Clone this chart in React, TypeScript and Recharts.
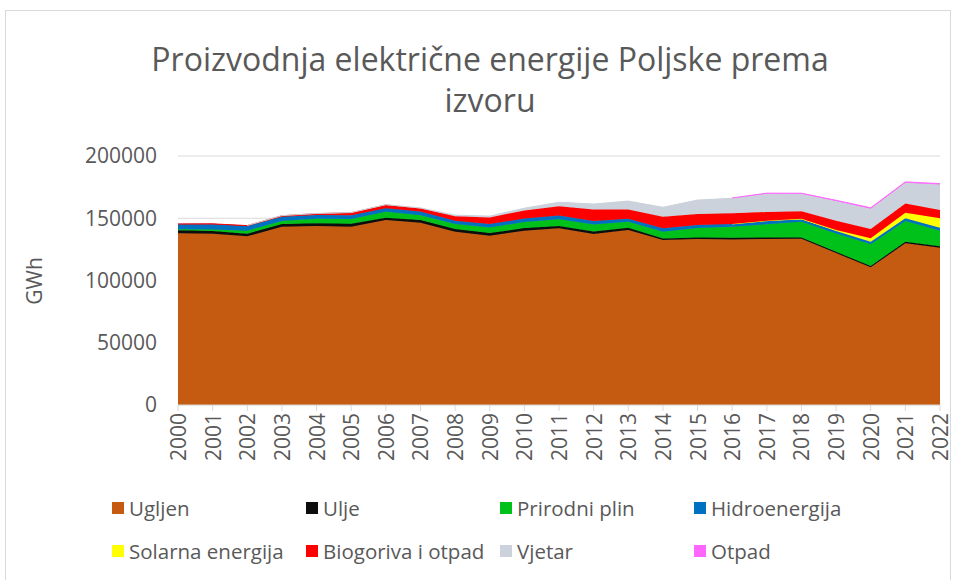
import { AreaChart, Area, XAxis, YAxis, CartesianGrid } from 'recharts';

const YEARS = [
  '2000', '2001', '2002', '2003', '2004', '2005', '2006', '2007', '2008', '2009', '2010', '2011',
  '2012', '2013', '2014', '2015', '2016', '2017', '2018', '2019', '2020', '2021', '2022',
];

// GWh (null = source not present that year)
const UGLJEN = [
  138000, 137500, 135500, 143200, 143800, 143200, 148600, 146400, 139200, 136000, 140000, 141900,
  137300, 140500, 132500, 133300, 133000, 133300, 133500, 122000, 110600, 129900, 126300,
];
const ULJE = [
  2400, 2300, 2100, 2100, 2200, 2400, 1900, 2100, 2100, 2100, 2100, 1900,
  2100, 1900, 1300, 1300, 1300, 1200, 1000, 1000, 1100, 1300, 1300,
];
const PRIRODNI_PLIN = [
  800, 1200, 2400, 2400, 3500, 3700, 4800, 4000, 4000, 4500, 4800, 5400,
  5600, 4800, 5400, 7500, 8800, 10700, 12600, 14700, 17400, 16600, 12300,
];
const HIDROENERGIJA = [
  4000, 4200, 3700, 3500, 3200, 3200, 2700, 2900, 2700, 2700, 2900, 3000,
  2700, 2400, 2700, 2500, 2200, 2700, 2100, 2100, 2100, 2100, 2500,
];
const SOLARNA = [
  null, null, null, null, null, null, null, null, null, null, null, null,
  null, null, null, null, 100, 150, 300, 700, 2700, 4500, 7500,
];
const BIOGORIVA = [
  200, 300, 400, 800, 1000, 1900, 2700, 2400, 3700, 5400, 6400, 7500,
  9400, 7500, 9400, 8800, 8600, 7000, 6200, 7500, 7500, 7500, 6700,
];
const VJETAR = [
  null, null, 100, 100, 150, 150, 250, 500, 800, 1000, 1900, 3200,
  4300, 6700, 7500, 11200, 12000, 14700, 13900, 15800, 16300, 16600, 20500,
];
const OTPAD = [
  null, null, null, null, null, null, null, null, null, null, null, null,
  null, null, null, null, 300, 400, 500, 600, 700, 700, 700,
];

const Y_TICKS = [0, 50000, 100000, 150000, 200000];

const SERIES = [
  { key: 'ugljen', name: 'Ugljen', values: UGLJEN, color: '#C55A11' },
  { key: 'ulje', name: 'Ulje', values: ULJE, color: '#0D0D0D' },
  { key: 'plin', name: 'Prirodni plin', values: PRIRODNI_PLIN, color: '#00C01A' },
  { key: 'hidro', name: 'Hidroenergija', values: HIDROENERGIJA, color: '#0070C0' },
  { key: 'solar', name: 'Solarna energija', values: SOLARNA, color: '#FFFF00' },
  { key: 'bio', name: 'Biogoriva i otpad', values: BIOGORIVA, color: '#FF0000' },
  { key: 'vjetar', name: 'Vjetar', values: VJETAR, color: '#CBD2DB' },
  { key: 'otpad', name: 'Otpad', values: OTPAD, color: '#FF66FF' },
];

const data = YEARS.map((year, i) => {
  const row: Record<string, string | number | null> = { year };
  SERIES.forEach(s => { row[s.key] = s.values[i]; });
  return row;
});

const FONT = '"Open Sans", sans-serif';
const TEXT = '#595959';

const XTick = ({ x, y, payload }: any) => (
  <text
    x={x}
    y={y}
    transform={`rotate(-90, ${x}, ${y})`}
    textAnchor="end"
    dominantBaseline="central"
    fill={TEXT}
    fontSize={21}
    fontFamily={FONT}
  >
    {payload.value}
  </text>
);

export default function App() {
  return (
    <div style={{ position: 'absolute', left: 0, top: 0, width: 956, height: 580, background: '#fff', fontFamily: FONT }}>
      <div style={{ position: 'absolute', left: 5, top: 10, width: 944, height: 572, border: '1px solid #D9D9D9' }} />
      <div style={{ position: 'absolute', left: 0, top: 38, width: 980, textAlign: 'center', color: TEXT, fontSize: 32, lineHeight: '41px' }}>
        Proizvodnja električne energije Poljske prema
        <br />
        izvoru
      </div>
      <div style={{ position: 'absolute', left: 0, top: 0 }}>
        <AreaChart width={956} height={580} data={data} margin={{ top: 156, right: 16, bottom: 100, left: 88 }}>
          <CartesianGrid vertical={false} stroke="#D9D9D9" />
          <XAxis
            dataKey="year"
            tick={<XTick />}
            interval={0}
            height={75}
            stroke="#D9D9D9"
            tickSize={6}
          />
          <YAxis
            ticks={Y_TICKS}
            domain={[0, 200000]}
            width={90}
            axisLine={false}
            tickLine={false}
            tick={{ fill: TEXT, fontSize: 21, fontFamily: FONT }}
            tickMargin={15}
          />
          {SERIES.map(s => (
            <Area
              key={s.key}
              dataKey={s.key}
              name={s.name}
              stackId="1"
              type="linear"
              fill={s.color}
              fillOpacity={1}
              stroke={s.color}
              strokeWidth={1}
              isAnimationActive={false}
            />
          ))}
        </AreaChart>
      </div>
      <div style={{ position: 'absolute', left: 34, top: 281, transform: 'translate(-50%, -50%) rotate(-90deg)', color: TEXT, fontSize: 21 }}>
        GWh
      </div>
      <div style={{ position: 'absolute', left: 112, top: 494, width: 800, display: 'grid', gridTemplateColumns: 'repeat(4, 194px)', rowGap: 15, color: TEXT, fontSize: 20.5 }}>
        {SERIES.map(s => (
          <div key={s.key} style={{ display: 'flex', alignItems: 'center', height: 28, whiteSpace: 'nowrap' }}>
            <span style={{ width: 12, height: 12, background: s.color, marginRight: 5, flexShrink: 0 }} />
            {s.name}
          </div>
        ))}
      </div>
    </div>
  );
}
